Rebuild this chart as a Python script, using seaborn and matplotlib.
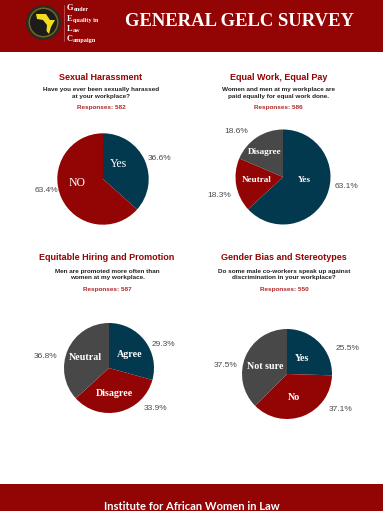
import matplotlib
matplotlib.use('Agg')
import matplotlib.pyplot as plt
import seaborn as sns
from matplotlib.patches import Circle, Polygon, Rectangle

sns.set_theme(style='white')
plt.rcParams['font.family'] = ['Liberation Sans', 'DejaVu Sans']

W, H = 383, 511
RED = '#930404'
NAVY = '#02394F'
GREY = '#484848'
TEXT = '#4a4a4a'

# survey results
harass_labels = ['Yes', 'NO']
harass_values = [36.6, 63.4]
pay_labels = ['Yes', 'Neutral', 'Disagree']
pay_values = [63.1, 18.3, 18.6]
hiring_labels = ['Agree', 'Disagree', 'Neutral']
hiring_values = [29.3, 33.9, 36.8]
bias_labels = ['Yes', 'No', 'Not sure']
bias_values = [25.5, 37.1, 37.5]

titles = ['Sexual Harassment', 'Equal Work, Equal Pay',
          'Equitable Hiring and Promotion', 'Gender Bias and Stereotypes']
questions = ['Have you ever been sexually harassed\nat your workplace?',
             'Women and men at my workplace are\npaid equally for equal work done.',
             'Men are promoted more often than\nwomen at my workplace.',
             'Do some male co-workers speak up against\ndiscrimination in your workplace?']
responses = [582, 586, 587, 550]

fig = plt.figure(figsize=(W / 100, H / 100), dpi=100, facecolor='white')
bg = fig.add_axes([0, 0, 1, 1])
bg.set_xlim(0, W)
bg.set_ylim(H, 0)
bg.axis('off')

# banners
bg.add_patch(Rectangle((0, 0), W, 52, color=RED, lw=0))
bg.add_patch(Rectangle((0, 484.5), W, 26.5, color=RED, lw=0))
bg.text(239, 21, 'GENERAL GELC SURVEY', color='white', fontsize=13.4, fontweight='bold',
        family='Liberation Serif', ha='center', va='center')
bg.text(191.5, 506, 'Institute for African Women in Law', color='white', fontsize=8.0,
        fontweight='bold', family='Lato', ha='center', va='center')

# logo
bg.add_patch(Circle((43.5, 22.5), 17.5, color='#2b2b22', lw=0))
bg.add_patch(Circle((43.5, 22.5), 15, color='#6f6a20', lw=0))
bg.add_patch(Circle((43.5, 22.5), 13.5, color='#1c1c1c', lw=0))
bg.add_patch(Polygon([(36, 14), (46, 14), (50, 20), (55, 20), (51, 27), (49, 34),
                      (46.5, 31), (47, 25), (43, 20), (37, 19)], color='#f3dc1c', lw=0))
bg.plot([64, 64], [5, 41], color='#c96a6a', lw=0.5)
for y, first, rest in [(8, 'G', 'ender'), (19, 'E', 'quality in'), (29, 'L', 'aw'), (39, 'C', 'ampaign')]:
    t = bg.text(67, y, first, color='white', fontsize=6.0, fontweight='bold',
                family='Liberation Serif', va='center')
    bg.annotate(rest, xy=(1, 0), xycoords=t, color='white', fontsize=4.4, fontweight='bold',
                family='Liberation Serif', va='bottom')

# header text per panel: centre x, title y, question y, responses y
heads = [(101, 78, 93, 108), (278.5, 78, 93, 108), (107, 258, 274.5, 290), (284, 258, 274.5, 290)]
for (x, y1, y2, y3), title, q, n in zip(heads, titles, questions, responses):
    bg.text(x, y1, title, color=RED, fontsize=6.5, fontweight='bold', ha='center', va='center')
    bg.text(x, y2, q, color='#222222', fontsize=4.6, fontweight='bold', ha='center', va='center',
            linespacing=1.3)
    bg.text(x, y3, f'Responses: {n}', color='#b02a2a', fontsize=4.6, fontweight='bold',
            ha='center', va='center')


def draw_pie(cx, cy, r, values, labels, colors, label_pos, pct_pos, serif_size=7.2, weight='bold'):
    m = 1.7
    ax = fig.add_axes([(cx - m * r) / W, 1 - (cy + m * r) / H, 2 * m * r / W, 2 * m * r / H])
    ax.pie(values, colors=colors, startangle=90, counterclock=False, radius=1,
           normalize=True, wedgeprops={'linewidth': 0})
    ax.set_xlim(-m, m)
    ax.set_ylim(-m, m)
    ax.patch.set_alpha(0)
    for lab, (x, y) in zip(labels, label_pos):
        ax.text(x, y, lab, color='white', fontsize=serif_size, fontweight=weight,
                family='Liberation Serif', ha='center', va='center')
    for v, (x, y) in zip(values, pct_pos):
        ax.text(x, y, f'{v}%', color=TEXT, fontsize=6.0, ha='center', va='center')


pal2 = sns.color_palette([NAVY, RED])
pal3 = sns.color_palette([NAVY, RED, GREY])
draw_pie(103, 179, 45.7, harass_values, harass_labels, pal2,
         [(0.34, 0.32), (-0.56, -0.09)], [(1.24, 0.44), (-1.24, -0.26)], serif_size=8.5, weight='normal')
draw_pie(283, 177, 47.5, pay_values, pay_labels, pal3,
         [(0.44, -0.07), (-0.56, -0.07), (-0.38, 0.52)], [(1.34, -0.2), (-1.34, -0.38), (-0.99, 0.96)],
         serif_size=6.6)
draw_pie(109, 368, 45, hiring_values, hiring_labels, pal3,
         [(0.45, 0.3), (0.13, -0.56), (-0.52, 0.23)], [(1.21, 0.53), (1.04, -0.9), (-1.41, 0.26)])
draw_pie(287, 374, 45, bias_values, bias_labels, pal3,
         [(0.33, 0.34), (0.15, -0.53), (-0.48, 0.16)], [(1.34, 0.56), (1.19, -0.78), (-1.36, 0.2)])

fig.savefig('out.png', dpi=100)
